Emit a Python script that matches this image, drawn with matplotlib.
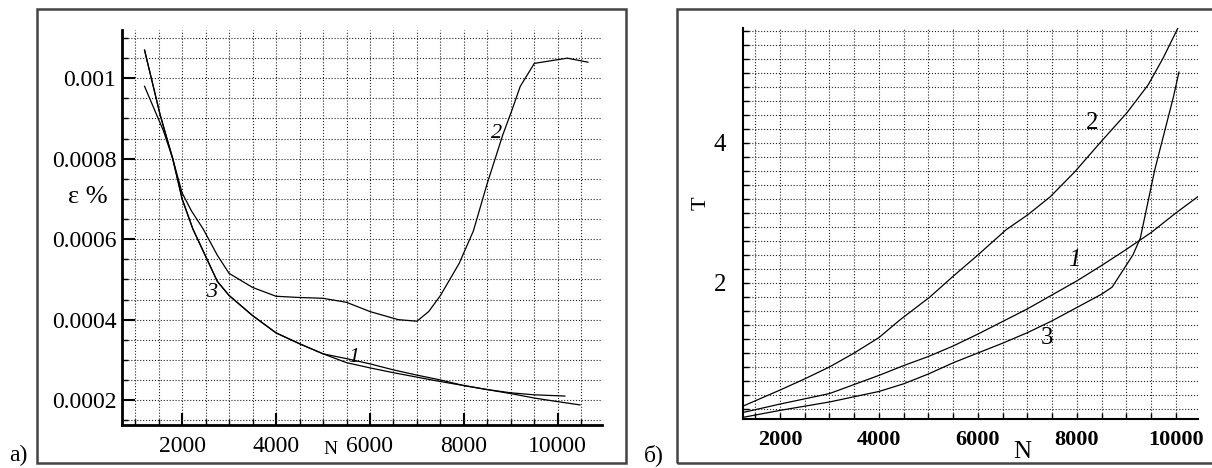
import numpy as np
import matplotlib
matplotlib.use("Agg")
import matplotlib.pyplot as plt
from matplotlib.patches import Rectangle
from matplotlib.ticker import MultipleLocator, FixedLocator

plt.rcParams['font.family'] = ['Liberation Serif', 'DejaVu Serif']

# --- panel a): relative error vs N ---
n_a2 = [1200, 1600, 1800, 2000, 2200, 2450, 2750, 3000, 3500, 4000, 4500, 5000,
        5500, 6000, 6600, 7000, 7250, 7500, 7900, 8200, 8500, 8830, 9020, 9200,
        9500, 10200, 10640]
eps_2 = [0.00098, 0.00087, 0.0008, 0.000715, 0.00067, 0.000625, 0.00056,
         0.000515, 0.00048, 0.000458, 0.000455, 0.000453, 0.000443, 0.00042,
         0.0004, 0.000396, 0.00042, 0.00046, 0.00054, 0.00062, 0.00074, 0.00086,
         0.00092, 0.00098, 0.001037, 0.00105, 0.00104]

n_a1 = [1200, 1530, 1800, 2000, 2230, 2550, 2750, 3000, 3500, 4000, 4500, 5000,
        5500, 6000, 6500, 7000, 7500, 8000, 8500, 9000, 9500, 10150]
eps_1 = [0.00107, 0.00091, 0.0008, 0.0007, 0.000625, 0.000545, 0.000495, 0.00046,
         0.00041, 0.000367, 0.00034, 0.000315, 0.000303, 0.00029, 0.000275,
         0.000262, 0.00025, 0.000236, 0.000226, 0.000218, 0.000213, 0.00021]

n_a3 = [1200, 1530, 1800, 2000, 2230, 2550, 2750, 3000, 3500, 4000, 4500, 5000,
        5500, 6000, 6500, 7000, 7500, 8000, 8500, 9000, 9500, 10000, 10470]
eps_3 = [0.00107, 0.00091, 0.0008, 0.0007, 0.000625, 0.000545, 0.000495, 0.00046,
         0.00041, 0.000367, 0.00034, 0.000315, 0.000293, 0.00028, 0.000268,
         0.000257, 0.000246, 0.000236, 0.000226, 0.000216, 0.000205, 0.000196,
         0.000188]

# --- panel б): time T vs N ---
n_b2 = [1250, 2000, 2500, 3000, 3500, 4000, 4420, 5030, 5490, 6000, 6570, 7000,
        7460, 7960, 8465, 9010, 9440, 9740, 10040]
t_2 = [0.24, 0.47, 0.63, 0.8, 1.0, 1.22, 1.47, 1.8, 2.09, 2.4, 2.76, 2.97, 3.23,
       3.59, 4.0, 4.43, 4.83, 5.21, 5.64]

n_b1 = [1250, 2000, 3000, 3500, 4000, 4500, 5000, 5500, 6000, 6500, 7000, 7500,
        8000, 8500, 9000, 9500, 10000, 10440]
t_1 = [0.15, 0.27, 0.42, 0.55, 0.68, 0.82, 0.95, 1.1, 1.27, 1.45, 1.63, 1.83,
       2.03, 2.25, 2.48, 2.72, 3.0, 3.23]

n_b3 = [1250, 2000, 3000, 4000, 4500, 5000, 5500, 6000, 6500, 7000, 7500, 8000,
        8500, 8710, 9130, 9280, 9570, 9950, 10060]
t_3 = [0.08, 0.18, 0.3, 0.45, 0.56, 0.7, 0.86, 1.0, 1.14, 1.29, 1.46, 1.65, 1.84,
       1.94, 2.4, 2.64, 3.61, 4.66, 5.01]

W, H = 1212, 468
fig = plt.figure(figsize=(W / 100, H / 100), dpi=100)


def fx(px):
    return px / W


def fy(py):
    return 1 - py / H


# frames around the two panels
for x0, x1 in [(37, 626), (677, 1215)]:
    fig.add_artist(Rectangle((fx(x0), fy(463)), fx(x1 - x0), (463 - 9) / H,
                             transform=fig.transFigure, fill=False,
                             edgecolor='#444444', lw=1.8))

gridkw = dict(linestyle=':', color='#222222', lw=0.8)

# ---------- panel a) ----------
ax1 = fig.add_axes([fx(122), fy(425), fx(602 - 122), (425 - 30) / H])
ax1.plot(n_a2, eps_2, color='k', lw=0.9)
ax1.plot(n_a1, eps_1, color='k', lw=0.9)
ax1.plot(n_a3, eps_3, color='k', lw=0.9)
ax1.set_xlim(720, 10940)
ax1.set_ylim(0.000138, 0.00112)
ax1.xaxis.set_major_locator(FixedLocator([2000, 4000, 6000, 8000, 10000]))
ax1.xaxis.set_minor_locator(MultipleLocator(500))
ax1.yaxis.set_major_locator(FixedLocator([0.0002, 0.0004, 0.0006, 0.0008, 0.001]))
ax1.set_yticklabels(['0.0002', '0.0004', '0.0006', '0.0008', '0.001'])
ax1.yaxis.set_minor_locator(MultipleLocator(0.00005))
ax1.tick_params(which='major', direction='in', length=9, width=1.5, labelsize=17, pad=4)
ax1.tick_params(which='minor', direction='in', length=4, width=1)
ax1.tick_params(axis='x', which='major', pad=8)
ax1.grid(which='both', **gridkw)
for s in ['top', 'right']:
    ax1.spines[s].set_visible(False)
for s in ['left', 'bottom']:
    ax1.spines[s].set_linewidth(2)
ax1.text(8700, 0.000863, '2', fontsize=16, style='italic', ha='center', va='center')
ax1.text(2630, 0.000468, '3', fontsize=16, style='italic', ha='center', va='center')
ax1.text(5660, 0.000306, '1', fontsize=16, style='italic', ha='center', va='center')

fig.text(fx(88), fy(197), 'ε %', fontsize=19, ha='center', va='center')
fig.text(fx(330), fy(450), 'N', fontsize=14, ha='center', va='center')
fig.text(fx(18), fy(455), 'а)', fontsize=17, ha='center', va='center')

# ---------- panel б) ----------
ax2 = fig.add_axes([fx(743), fy(419), fx(1198 - 743), (419 - 28) / H])
ax2.plot(n_b2, t_2, color='k', lw=0.9)
ax2.plot(n_b1, t_1, color='k', lw=0.9)
ax2.plot(n_b3, t_3, color='k', lw=0.9)
ax2.set_xlim(1253, 10445)
ax2.set_ylim(0.057, 5.64)
ax2.xaxis.set_major_locator(FixedLocator([2000, 4000, 6000, 8000, 10000]))
ax2.xaxis.set_minor_locator(MultipleLocator(500))
ax2.yaxis.set_major_locator(FixedLocator([2, 4]))
ax2.yaxis.set_minor_locator(MultipleLocator(0.2))
ax2.tick_params(which='both', direction='in', length=4, width=1)
ax2.tick_params(axis='x', which='major', labelsize=16, pad=8)
ax2.tick_params(axis='y', which='major', labelsize=18, pad=12)
for lab in ax2.get_xticklabels():
    lab.set_fontweight('bold')
ax2.grid(which='both', **gridkw)
for s in ['top', 'right']:
    ax2.spines[s].set_visible(False)
for s in ['left', 'bottom']:
    ax2.spines[s].set_linewidth(1.5)
ax2.text(8300, 4.28, '2', fontsize=18, ha='center', va='center')
ax2.text(7950, 2.33, '1', fontsize=18, style='italic', ha='center', va='center')
ax2.text(7390, 1.21, '3', fontsize=18, ha='center', va='center')

fig.text(fx(701), fy(203), 'T', fontsize=16, rotation=90, ha='center', va='center')
fig.text(fx(1022), fy(452), 'N', fontsize=18, ha='center', va='center')
fig.text(fx(654), fy(455), 'б)', fontsize=17, ha='center', va='center')

fig.savefig('out.png', dpi=100, facecolor='white')
